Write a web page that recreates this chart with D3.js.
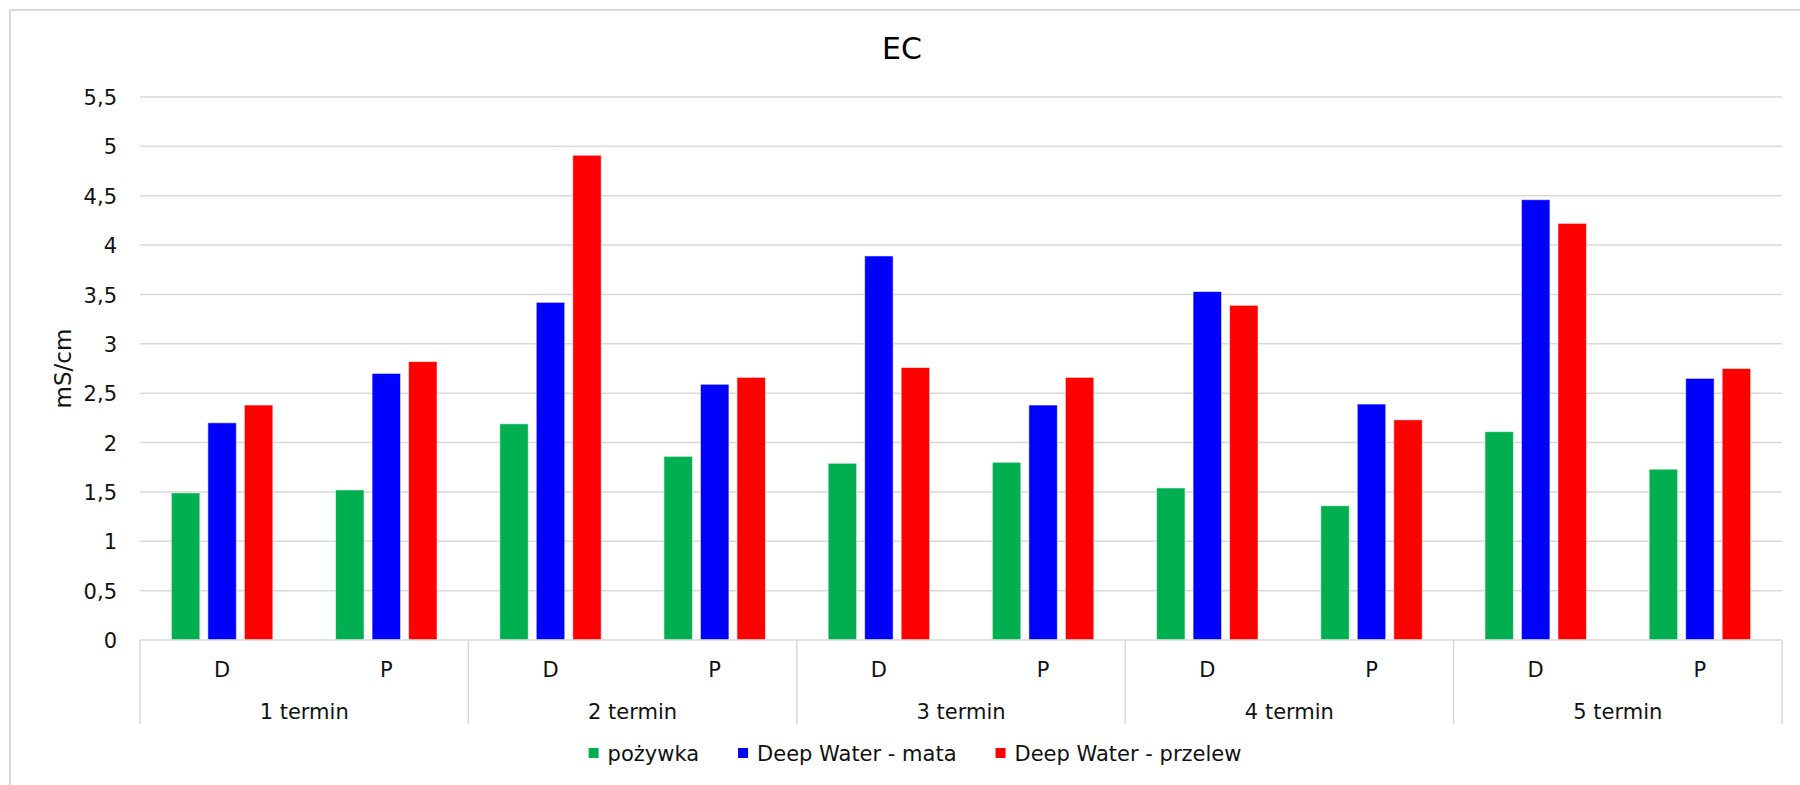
<!DOCTYPE html>
<html>
<head>
<meta charset="utf-8">
<script src="https://cdn.jsdelivr.net/npm/d3@7"></script>
<style>
  html, body { margin: 0; padding: 0; background: #fff; }
  svg { display: block; font-family: "DejaVu Sans", Verdana, sans-serif; }
</style>
</head>
<body>
<svg id="chart" width="1800" height="785"></svg>
<script>
// EC readings per sampling date (termin) and site (D / P)
const terms = ["1 termin", "2 termin", "3 termin", "4 termin", "5 termin"];
const sites = ["D", "P"];
const seriesNames = ["pożywka", "Deep Water - mata", "Deep Water - przelew"];
const seriesColors = ["#00B050", "#0000FF", "#FF0000"];

const pozywka = [1.49, 1.52, 2.19, 1.86, 1.79, 1.80, 1.54, 1.36, 2.11, 1.73];
const deepWaterMata = [2.20, 2.70, 3.42, 2.59, 3.89, 2.38, 3.53, 2.39, 4.46, 2.65];
const deepWaterPrzelew = [2.38, 2.82, 4.91, 2.66, 2.76, 2.66, 3.39, 2.23, 4.22, 2.75];

const yTicks = [0, 0.5, 1, 1.5, 2, 2.5, 3, 3.5, 4, 4.5, 5, 5.5];
const yMax = 5.5;
const yTitle = "mS/cm";
const chartTitle = "EC";

// category keys: one per (termin, site) pair
const categories = [];
terms.forEach((t, ti) => sites.forEach(s => categories.push({ key: ti + "-" + s, term: t, site: s })));
const seriesValues = [pozywka, deepWaterMata, deepWaterPrzelew];

const svg = d3.select("#chart");
const plot = { left: 140, right: 1782, top: 97, bottom: 640 };
const textColor = "#111";

// outer chart frame
svg.append("rect")
  .attr("x", 10).attr("y", 10)
  .attr("width", 1800).attr("height", 800)
  .attr("fill", "#fff").attr("stroke", "#d9d9d9").attr("stroke-width", 2);

const y = d3.scaleLinear().domain([0, yMax]).range([plot.bottom, plot.top]);
const x0 = d3.scaleBand()
  .domain(categories.map(c => c.key))
  .range([plot.left, plot.right])
  .paddingInner(0.333).paddingOuter(0.1665);
const x1 = d3.scaleBand()
  .domain(seriesNames)
  .range([0, x0.bandwidth()])
  .paddingInner(0.22).paddingOuter(0.11);

// horizontal gridlines
svg.append("g")
  .selectAll("line")
  .data(yTicks.filter(v => v > 0))
  .join("line")
  .attr("x1", plot.left).attr("x2", plot.right)
  .attr("y1", d => y(d)).attr("y2", d => y(d))
  .attr("stroke", "#d9d9d9").attr("stroke-width", 1.5);

// y axis tick labels
const yAxis = d3.axisLeft(y).tickValues(yTicks).tickSize(0).tickPadding(0)
  .tickFormat(d => String(d).replace(".", ","));
const yg = svg.append("g").attr("transform", `translate(117,0)`).call(yAxis);
yg.select(".domain").remove();
yg.selectAll("text")
  .attr("font-size", 21).attr("fill", textColor)
  .attr("font-family", "DejaVu Sans, Verdana, sans-serif")
  .attr("dy", "0.36em");

// y axis title
svg.append("text")
  .attr("transform", `translate(71,${(plot.top + plot.bottom) / 2}) rotate(-90)`)
  .attr("text-anchor", "middle")
  .attr("font-size", 23).attr("fill", textColor)
  .text(yTitle);

// bars
const barGroups = svg.append("g")
  .selectAll("g")
  .data(categories)
  .join("g")
  .attr("transform", d => `translate(${x0(d.key)},0)`);

barGroups.selectAll("rect")
  .data((c, ci) => seriesNames.map((name, si) => ({ name, color: seriesColors[si], value: seriesValues[si][ci] })))
  .join("rect")
  .attr("x", d => x1(d.name))
  .attr("width", x1.bandwidth())
  .attr("y", d => y(d.value))
  .attr("height", d => y(0) - y(d.value))
  .attr("fill", d => d.color)
  .attr("stroke", "rgba(255,255,255,0.55)")
  .attr("stroke-width", 1);

// category axis: baseline and group dividers
const axisBottom = 724;
svg.append("line")
  .attr("x1", plot.left).attr("x2", plot.right)
  .attr("y1", plot.bottom).attr("y2", plot.bottom)
  .attr("stroke", "#d9d9d9").attr("stroke-width", 1.5);

const groupWidth = (plot.right - plot.left) / terms.length;
const dividers = d3.range(terms.length + 1).map(i => plot.left + i * groupWidth);
svg.append("g")
  .selectAll("line")
  .data(dividers)
  .join("line")
  .attr("x1", d => d).attr("x2", d => d)
  .attr("y1", plot.bottom).attr("y2", axisBottom)
  .attr("stroke", "#d9d9d9").attr("stroke-width", 1.5);

// site labels (D / P)
svg.append("g")
  .selectAll("text")
  .data(categories)
  .join("text")
  .attr("x", d => x0(d.key) + x0.bandwidth() / 2)
  .attr("y", 669)
  .attr("dy", "0.36em")
  .attr("text-anchor", "middle")
  .attr("font-size", 21).attr("fill", textColor)
  .text(d => d.site);

// termin labels
svg.append("g")
  .selectAll("text")
  .data(terms)
  .join("text")
  .attr("x", (d, i) => plot.left + (i + 0.5) * groupWidth)
  .attr("y", 711)
  .attr("dy", "0.36em")
  .attr("text-anchor", "middle")
  .attr("font-size", 21).attr("fill", textColor)
  .text(d => d);

// title
svg.append("text")
  .attr("x", 902).attr("y", 59)
  .attr("text-anchor", "middle")
  .attr("font-size", 30).attr("fill", "#000")
  .text(chartTitle);

// legend, laid out from measured label widths and centred
const legend = svg.append("g");
const sq = 10, sqGap = 9, itemGap = 39, legendY = 753;
const items = legend.selectAll("g")
  .data(seriesNames.map((name, i) => ({ name, color: seriesColors[i] })))
  .join("g");
items.append("rect")
  .attr("width", sq).attr("height", sq)
  .attr("y", legendY - sq / 2)
  .attr("fill", d => d.color);
items.append("text")
  .attr("x", sq + sqGap)
  .attr("y", legendY)
  .attr("dy", "0.36em")
  .attr("font-size", 21).attr("fill", textColor)
  .text(d => d.name);
const widths = [];
items.each(function () {
  const w = sq + sqGap + d3.select(this).select("text").node().getComputedTextLength();
  widths.push(w);
});
const totalW = d3.sum(widths) + itemGap * (widths.length - 1);
let start = 915 - totalW / 2;
items.attr("transform", (d, i) => {
  const tx = start;
  start += widths[i] + itemGap;
  return `translate(${tx},0)`;
});
</script>
</body>
</html>
